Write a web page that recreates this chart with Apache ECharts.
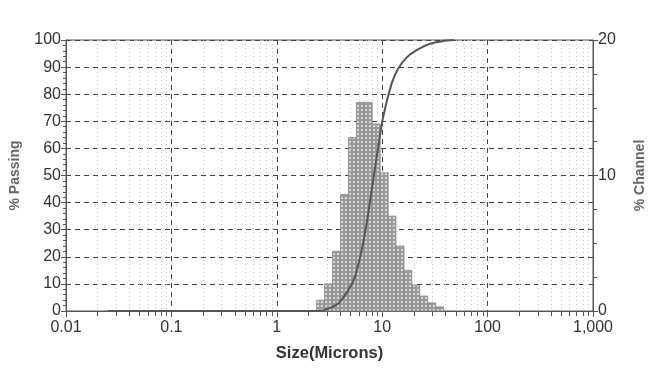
<!DOCTYPE html>
<html>
<head>
<meta charset="utf-8">
<script src="https://cdn.jsdelivr.net/npm/echarts@6/dist/echarts.min.js"></script>
<style>
	html, body { margin: 0; padding: 0; background: #fff; }
	#psd_chart { width: 657px; height: 376px; }
</style>
</head>
<body>
<div id="psd_chart"></div>
<script>
// x axis labels (log scale, microns)
var xTickLabels = ['0.01', '0.1', '1', '10', '100', '1,000'];

// histogram channels: lower/upper edges (microns) and % channel
var binEdges = [2.39, 2.84, 3.38, 4.02, 4.78, 5.69, 6.76, 8.04, 9.56, 11.4, 13.5, 16.1, 19.1, 22.7, 27.0, 32.2, 38.3];
var channelPct = [0.8, 2.0, 4.4, 8.6, 12.8, 15.4, 15.4, 13.8, 10.2, 7.0, 4.8, 3.0, 1.9, 1.1, 0.6, 0.3];

// cumulative curve (% passing)
var curveSize = [0.025, 2.6, 2.87, 3.83, 4.77, 5.52, 6.39, 7.13, 7.95, 8.87, 10.2, 12.3, 14.2, 17.1, 21.2, 28.4, 38.0, 48.0];
var curvePassing = [0, 0, 0.4, 2.8, 7.7, 12.7, 22.5, 32.4, 44.6, 56.9, 71.5, 84.0, 89.5, 93.6, 96.3, 98.6, 99.6, 100];

var FONT = '"Liberation Sans", Arial, sans-serif';
var TXT = '#333';
var AX = '#555';

// 柱子的网点纹理
function makePattern() {
	var c = document.createElement('canvas');
	c.width = 4;
	c.height = 4;
	var ctx = c.getContext('2d');
	ctx.fillStyle = '#9a9a9a';
	ctx.fillRect(0, 0, 4, 4);
	ctx.fillStyle = '#d6d6d6';
	ctx.fillRect(1, 1, 2, 2);
	return c;
}

var binData = [];
for (var i = 0; i < channelPct.length; i++) {
	binData.push([binEdges[i], binEdges[i + 1], channelPct[i]]);
}
var curveData = [];
for (var j = 0; j < curveSize.length; j++) {
	curveData.push([curveSize[j], curvePassing[j]]);
}

var pattern = makePattern();

function renderBin(params, api) {
	var p0 = api.coord([api.value(0), 0]);
	var p1 = api.coord([api.value(1), api.value(2)]);
	return {
		type: 'rect',
		shape: { x: p0[0], y: p1[1], width: p1[0] - p0[0], height: p0[1] - p1[1] },
		style: { fill: { image: pattern, repeat: 'repeat' }, stroke: '#888', lineWidth: 0.8 }
	};
}

var chart = echarts.init(document.getElementById('psd_chart'), null, { renderer: 'canvas' });

var option = {
	backgroundColor: '#fff',
	animation: false,
	grid: {
		left: 66, right: 64, top: 40, bottom: 65,
		show: true, borderColor: AX, borderWidth: 1, backgroundColor: 'transparent'
	},
	xAxis: {
		type: 'log',
		logBase: 10,
		min: 0.01,
		max: 1000,
		name: 'Size(Microns)',
		nameLocation: 'middle',
		nameGap: 34,
		nameTextStyle: { fontFamily: FONT, fontSize: 16.5, fontWeight: 'bold', color: TXT },
		axisLine: { lineStyle: { color: AX } },
		axisTick: { length: 6, lineStyle: { color: AX } },
		minorTick: { show: true, splitNumber: 9, length: 5, lineStyle: { color: AX } },
		axisLabel: {
			fontFamily: FONT, fontSize: 16, color: TXT, margin: 9,
			showMinLabel: true, showMaxLabel: true,
			formatter: function(v) {
				var k = Math.round(Math.log(v) / Math.LN10) + 2;
				return xTickLabels[k] || '';
			}
		},
		splitLine: { show: true, lineStyle: { color: '#444', type: [5, 4], width: 1 } },
		minorSplitLine: { show: true, lineStyle: { color: '#c4c4c4', type: [1, 3], width: 1 } }
	},
	yAxis: [{
		type: 'value',
		min: 0,
		max: 100,
		interval: 10,
		name: '% Passing',
		nameLocation: 'middle',
		nameRotate: 90,
		nameGap: 44,
		nameTextStyle: { fontFamily: FONT, fontSize: 14, fontWeight: 'bold', color: '#666' },
		axisLine: { show: true, lineStyle: { color: AX } },
		axisTick: { show: true, length: 5, lineStyle: { color: AX } },
		minorTick: { show: true, splitNumber: 5, length: 3, lineStyle: { color: AX } },
		axisLabel: { fontFamily: FONT, fontSize: 16, color: TXT, margin: 5 },
		splitLine: { show: true, lineStyle: { color: '#444', type: [5, 4], width: 1 } }
	}, {
		type: 'value',
		min: 0,
		max: 20,
		interval: 10,
		position: 'right',
		name: '% Channel',
		nameLocation: 'middle',
		nameRotate: 90,
		nameGap: 40,
		nameTextStyle: { fontFamily: FONT, fontSize: 14, fontWeight: 'bold', color: '#666' },
		axisLine: { show: true, lineStyle: { color: AX } },
		axisTick: { show: true, length: 5, lineStyle: { color: AX } },
		minorTick: { show: true, splitNumber: 4, length: 4, lineStyle: { color: AX } },
		axisLabel: { fontFamily: FONT, fontSize: 16, color: TXT, margin: 5 },
		splitLine: { show: false }
	}],
	series: [{
		name: '% Channel',
		type: 'custom',
		yAxisIndex: 1,
		renderItem: renderBin,
		encode: { x: [0, 1], y: 2 },
		data: binData,
		z: 2
	}, {
		name: '% Passing',
		type: 'line',
		yAxisIndex: 0,
		data: curveData,
		smooth: 0.3,
		symbol: 'none',
		lineStyle: { color: '#555', width: 2 },
		z: 3
	}]
};

chart.setOption(option);
</script>
</body>
</html>
